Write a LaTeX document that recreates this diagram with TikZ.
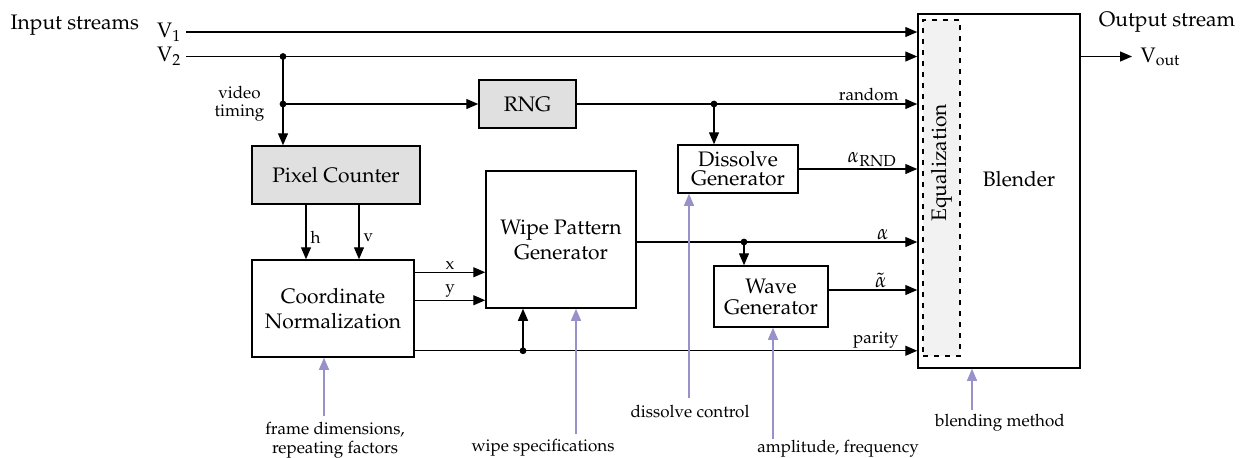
\documentclass[tikz,border=0pt]{standalone}
\usepackage[T1]{fontenc}
\usepackage{mathpazo}
\usepackage{tikz}
\usetikzlibrary{arrows.meta, positioning}

\definecolor{ctrlpurple}{RGB}{152,146,202}

\begin{document}
\begin{tikzpicture}[
    x = 0.5pt, y = -0.5pt, % one unit per pixel, y grows downwards
    > = {Triangle[length=6pt, width=5pt]}, % arrow head style
    line width = 0.65pt,
    font = \fontsize{10.5}{12.5}\selectfont
]

\tikzstyle{block}=[
    draw,
    line width = 0.75pt,
    align = center,
    inner sep = 0pt,
]
\tikzstyle{shaded}=[block, fill = black!12]
\tikzstyle{lbl}=[font = \fontsize{8.5}{10}\selectfont, inner sep = 1pt]
\tikzstyle{greek}=[font = \fontsize{10.5}{12}\selectfont, inner sep = 1pt]
\tikzstyle{ctrl}=[->, draw = ctrlpurple, fill = ctrlpurple, line width = 0.7pt]
\tikzstyle{dot}=[circle, fill, inner sep = 0pt, minimum size = 3.4pt]

\useasboundingbox (0,0) rectangle (1245,457);

% blocks
\node[block, minimum width=81pt, minimum height=177pt] (blend) at (999,191) {};
\node[draw, dashed, dash pattern=on 2.5pt off 3pt, fill=black!5,
      minimum width=18.5pt, minimum height=168pt, inner sep=0pt] (eq) at (941.5,188) {};
\node[rotate=90, font=\fontsize{10.5}{12}\selectfont] (eqlbl) at (941.5,163) {Equalization};
\node (blendlbl) at (1019,179) {Blender};

\node[shaded, minimum width=48.5pt, minimum height=24pt] (rng) at (527.5,104) {RNG};
\node[shaded, minimum width=84pt, minimum height=29pt] (pix) at (336,175) {Pixel Counter};
\node[block, minimum width=81pt, minimum height=48.5pt] (norm) at (333,308.5) {Coordinate\\Normalization};
\node[block, minimum width=75pt, minimum height=68.5pt] (wipe) at (561,239.5) {Wipe Pattern\\Generator};
\node[block, minimum width=60pt, minimum height=24pt] (diss) at (738,169) {Dissolve\\[-3pt]Generator};
\node[block, minimum width=57pt, minimum height=30.5pt] (wave) at (771,296.5) {Wave\\[-2pt]Generator};

% input and output streams
\coordinate (v1) at (186,32);
\coordinate (v2) at (186,56.5);
\node[left=1pt of v1, inner sep=1pt] (v1lbl) {$\mathrm{V}_1$};
\node[left=1pt of v2, inner sep=1pt] (v2lbl) {$\mathrm{V}_2$};
\node[anchor=base west, inner sep=0pt] (instreams) at (10,29) {Input streams};
\draw[->] (v1) -- (v1 -| blend.west);
\draw[->] (v2) -- (v2 -| blend.west);

\coordinate (vout) at (1132,56.5);
\draw[->] (blend.east |- vout) -- (vout);
\node[right=3pt of vout, inner sep=1pt] (voutlbl) {$\mathrm{V}_{\mathrm{out}}$};
\node[anchor=base, inner sep=0pt] (outstream) at (1167,26) {Output stream};

% video timing
\coordinate (tap) at (283,56.5);
\coordinate (vt) at (283,104);
\draw[->] (tap) -- (tap |- pix.north);
\draw[->] (vt) -- (rng);
\node[dot] at (tap) {};
\node[dot] at (vt) {};
\node[lbl, align=center, left=8pt of vt] (vtlbl) {video\\[-1pt]timing};

% counter to normalization
\draw[->] (pix.south -| 306,0) -- (306,0 |- norm.north)
    node[lbl, right=1pt, pos=0.6] {h};
\draw[->] (pix.south -| 359,0) -- (359,0 |- norm.north)
    node[lbl, right=1pt, pos=0.6] {v};
\draw[->] ([yshift=-6.5pt]norm.north east) coordinate (nx) -- (nx -| wipe.west)
    node[lbl, midway, above] {x};
\draw[->] ([yshift=-20.5pt]norm.north east) coordinate (ny) -- (ny -| wipe.west)
    node[lbl, midway, above] {y};

% parity
\draw[->] ([yshift=3.5pt]norm.south east) coordinate (np) -- (np -| blend.west)
    node[lbl, pos=1, anchor=south east, xshift=-8pt] {parity};
\coordinate (ptap) at (np -| 523,0);
\draw[->] (ptap) -- (ptap |- wipe.south);
\node[dot] at (ptap) {};

% random
\draw[->] (rng) -- (rng -| blend.west)
    node[lbl, pos=1, anchor=south east, xshift=-8pt] {random};
\coordinate (rtap) at (rng -| 714,0);
\draw[->] (rtap) -- (rtap |- diss.north);
\node[dot] at (rtap) {};
\draw[->] (diss) -- (diss -| blend.west)
    node[greek, pos=1, anchor=south east, xshift=-9pt] {$\alpha_{\mathrm{RND}}$};

% alpha
\draw[->] ([yshift=-1.25pt]wipe.east) coordinate (wa) -- (wa -| blend.west)
    node[greek, pos=1, anchor=south east, xshift=-13pt] {$\alpha$};
\coordinate (atap) at (wa -| 744,0);
\draw[->] (atap) -- (atap |- wave.north);
\node[dot] at (atap) {};
\draw[->] ([yshift=3.25pt]wave.east) coordinate (wv) -- (wv -| blend.west)
    node[greek, pos=1, anchor=south east, xshift=-14pt] {$\tilde{\alpha}$};

% control inputs
\node[lbl, align=center] (framelbl) at (335,440.5) {frame dimensions,\\[-0.5pt]repeating factors};
\node[lbl] (wipelbl) at (543,448) {wipe specifications};
\node[lbl] (disslbl) at (690,412) {dissolve control};
\node[lbl] (amplbl) at (838,449) {amplitude, frequency};
\node[lbl] (blendmlbl) at (1000,423) {blending method};
\coordinate (framein) at (324,416);
\coordinate (wipein) at (576,434);
\coordinate (dissin) at (689,398);
\coordinate (ampin) at (773,439);
\coordinate (blendin) at (972,410);
\draw[ctrl] (framein) -- (framein |- norm.south);
\draw[ctrl] (wipein) -- (wipein |- wipe.south);
\draw[ctrl] (dissin) -- (dissin |- diss.south);
\draw[ctrl] (ampin) -- (ampin |- wave.south);
\draw[ctrl] (blendin) -- (blendin |- blend.south);
\end{tikzpicture}
\end{document}
